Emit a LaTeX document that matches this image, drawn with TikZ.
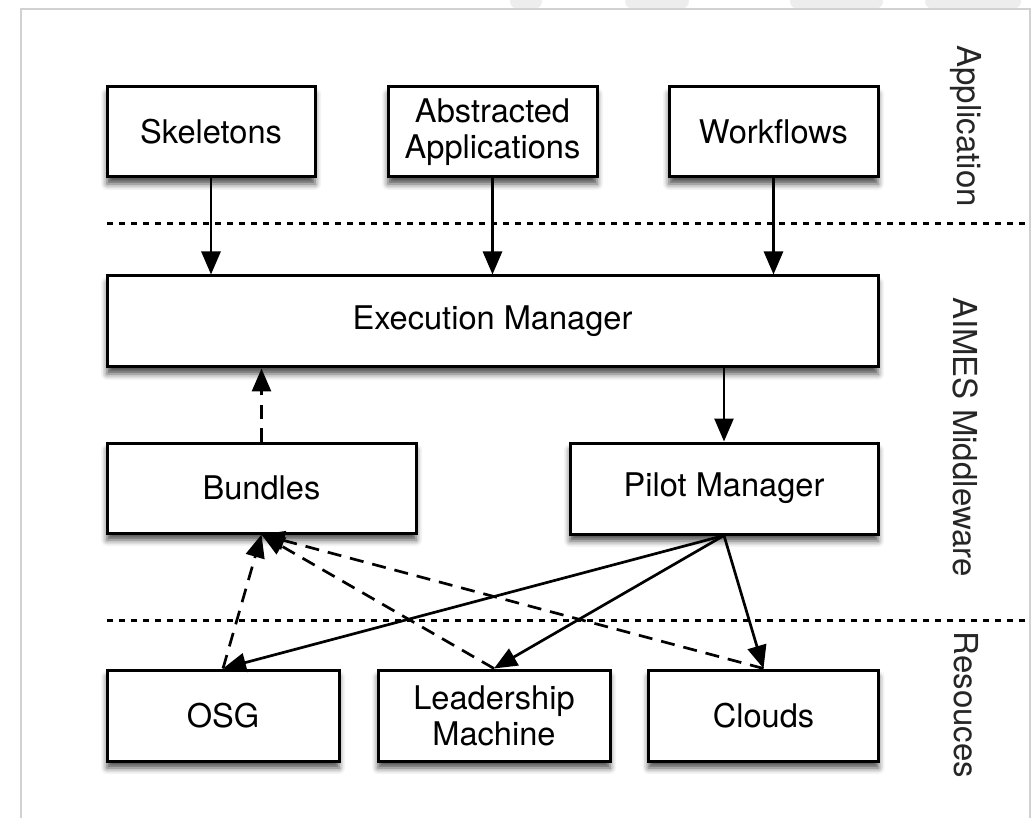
\documentclass[tikz,border=0pt]{standalone}
\usepackage{fontspec}
\setmainfont{TeX Gyre Heros}
\usetikzlibrary{arrows.meta,shadows.blur}

\begin{document}
\begin{tikzpicture}[x=0.5pt,y=-0.5pt,
		box/.style={draw,line width=1.5pt,fill=white,align=center,inner sep=0pt,
			font=\fontsize{16.3}{18}\selectfont,minimum height=45pt,
			blur shadow={shadow xshift=0pt,shadow yshift=-3.5pt,shadow blur radius=3pt,shadow opacity=70}},
		arr/.style={line width=1.35pt,-{Triangle[length=11.5pt,width=9.5pt]}},
		darr/.style={arr,dash pattern=on 7pt off 4.5pt},
		sep/.style={line width=1.5pt,dash pattern=on 3pt off 3pt},
		layer/.style={rotate=-90,font=\fontsize{16.5}{18}\selectfont,text=black!85}]
		\useasboundingbox (0,0) rectangle (1034,818);
		% page edge and the grey bits above it
		\foreach \a/\b in {510/542, 625/689, 790/883, 925/1021} {
			\fill[black!7, rounded corners=4pt] (\a,-6) rectangle (\b,9);
		}
		\draw[black!18, line width=1pt] (21,818) -- (21,9) -- (1030,9) -- (1030,818);
		
		% application layer
		\node[box, minimum width=104pt] (skel) at (211,132) {Skeletons};
		\node[box, minimum width=104.5pt] (abstr) at (492.5,132) {Abstracted\\Applications};
		\node[box, minimum width=104.5pt] (work) at (773.5,132) {Workflows};
		
		% middleware
		\node[box, minimum width=385.5pt, minimum height=45.5pt] (exec) at (492.5,321.5) {Execution Manager};
		\node[box, minimum width=154.5pt] (bund) at (261.5,488) {Bundles};
		\node[box, minimum width=154pt, minimum height=45.5pt] (pilot) at (724,488.5) {Pilot Manager};
		
		% resources
		\node[box, minimum width=116pt, minimum height=45.5pt] (osg) at (223,715.5) {OSG};
		\node[box, minimum width=116pt, minimum height=45.5pt] (lead) at (494,715.5) {Leadership\\Machine};
		\node[box, minimum width=115pt, minimum height=45.5pt] (cloud) at (763.5,715.5) {Clouds};
		
		% layer separators
		\coordinate (s1a) at (107,224);
		\coordinate (s1b) at (1027,224);
		\coordinate (s2a) at (107,620);
		\coordinate (s2b) at (1027,620);
		\draw[sep] (s1a) -- (s1b);
		\draw[sep] (s2a) -- (s2b);
		
		\node[layer] (lapp) at (966,126) {Application};
		\node[layer] (lmid) at (966,437) {AIMES Middleware};
		\node[layer] (lres) at (966,705) {Resouces};
		
		% connections
		\draw[arr] (skel) -- (skel |- exec.north);
		\draw[arr] (abstr) -- (abstr |- exec.north);
		\draw[arr] (work) -- (work |- exec.north);
		\draw[arr] (pilot |- exec.south) -- (pilot);
		\draw[darr] (bund) -- (bund |- exec.south);
		
		\draw[arr] (pilot.south) -- (osg.north);
		\draw[arr] (pilot.south) -- (lead.north);
		\draw[arr] (pilot.south) -- (cloud.north);
		
		\draw[darr] (osg.north) -- (bund.south);
		\draw[darr] (lead.north) -- (bund.south);
		\draw[darr] (cloud.north) -- (bund.south);
	\end{tikzpicture}
\end{document}
